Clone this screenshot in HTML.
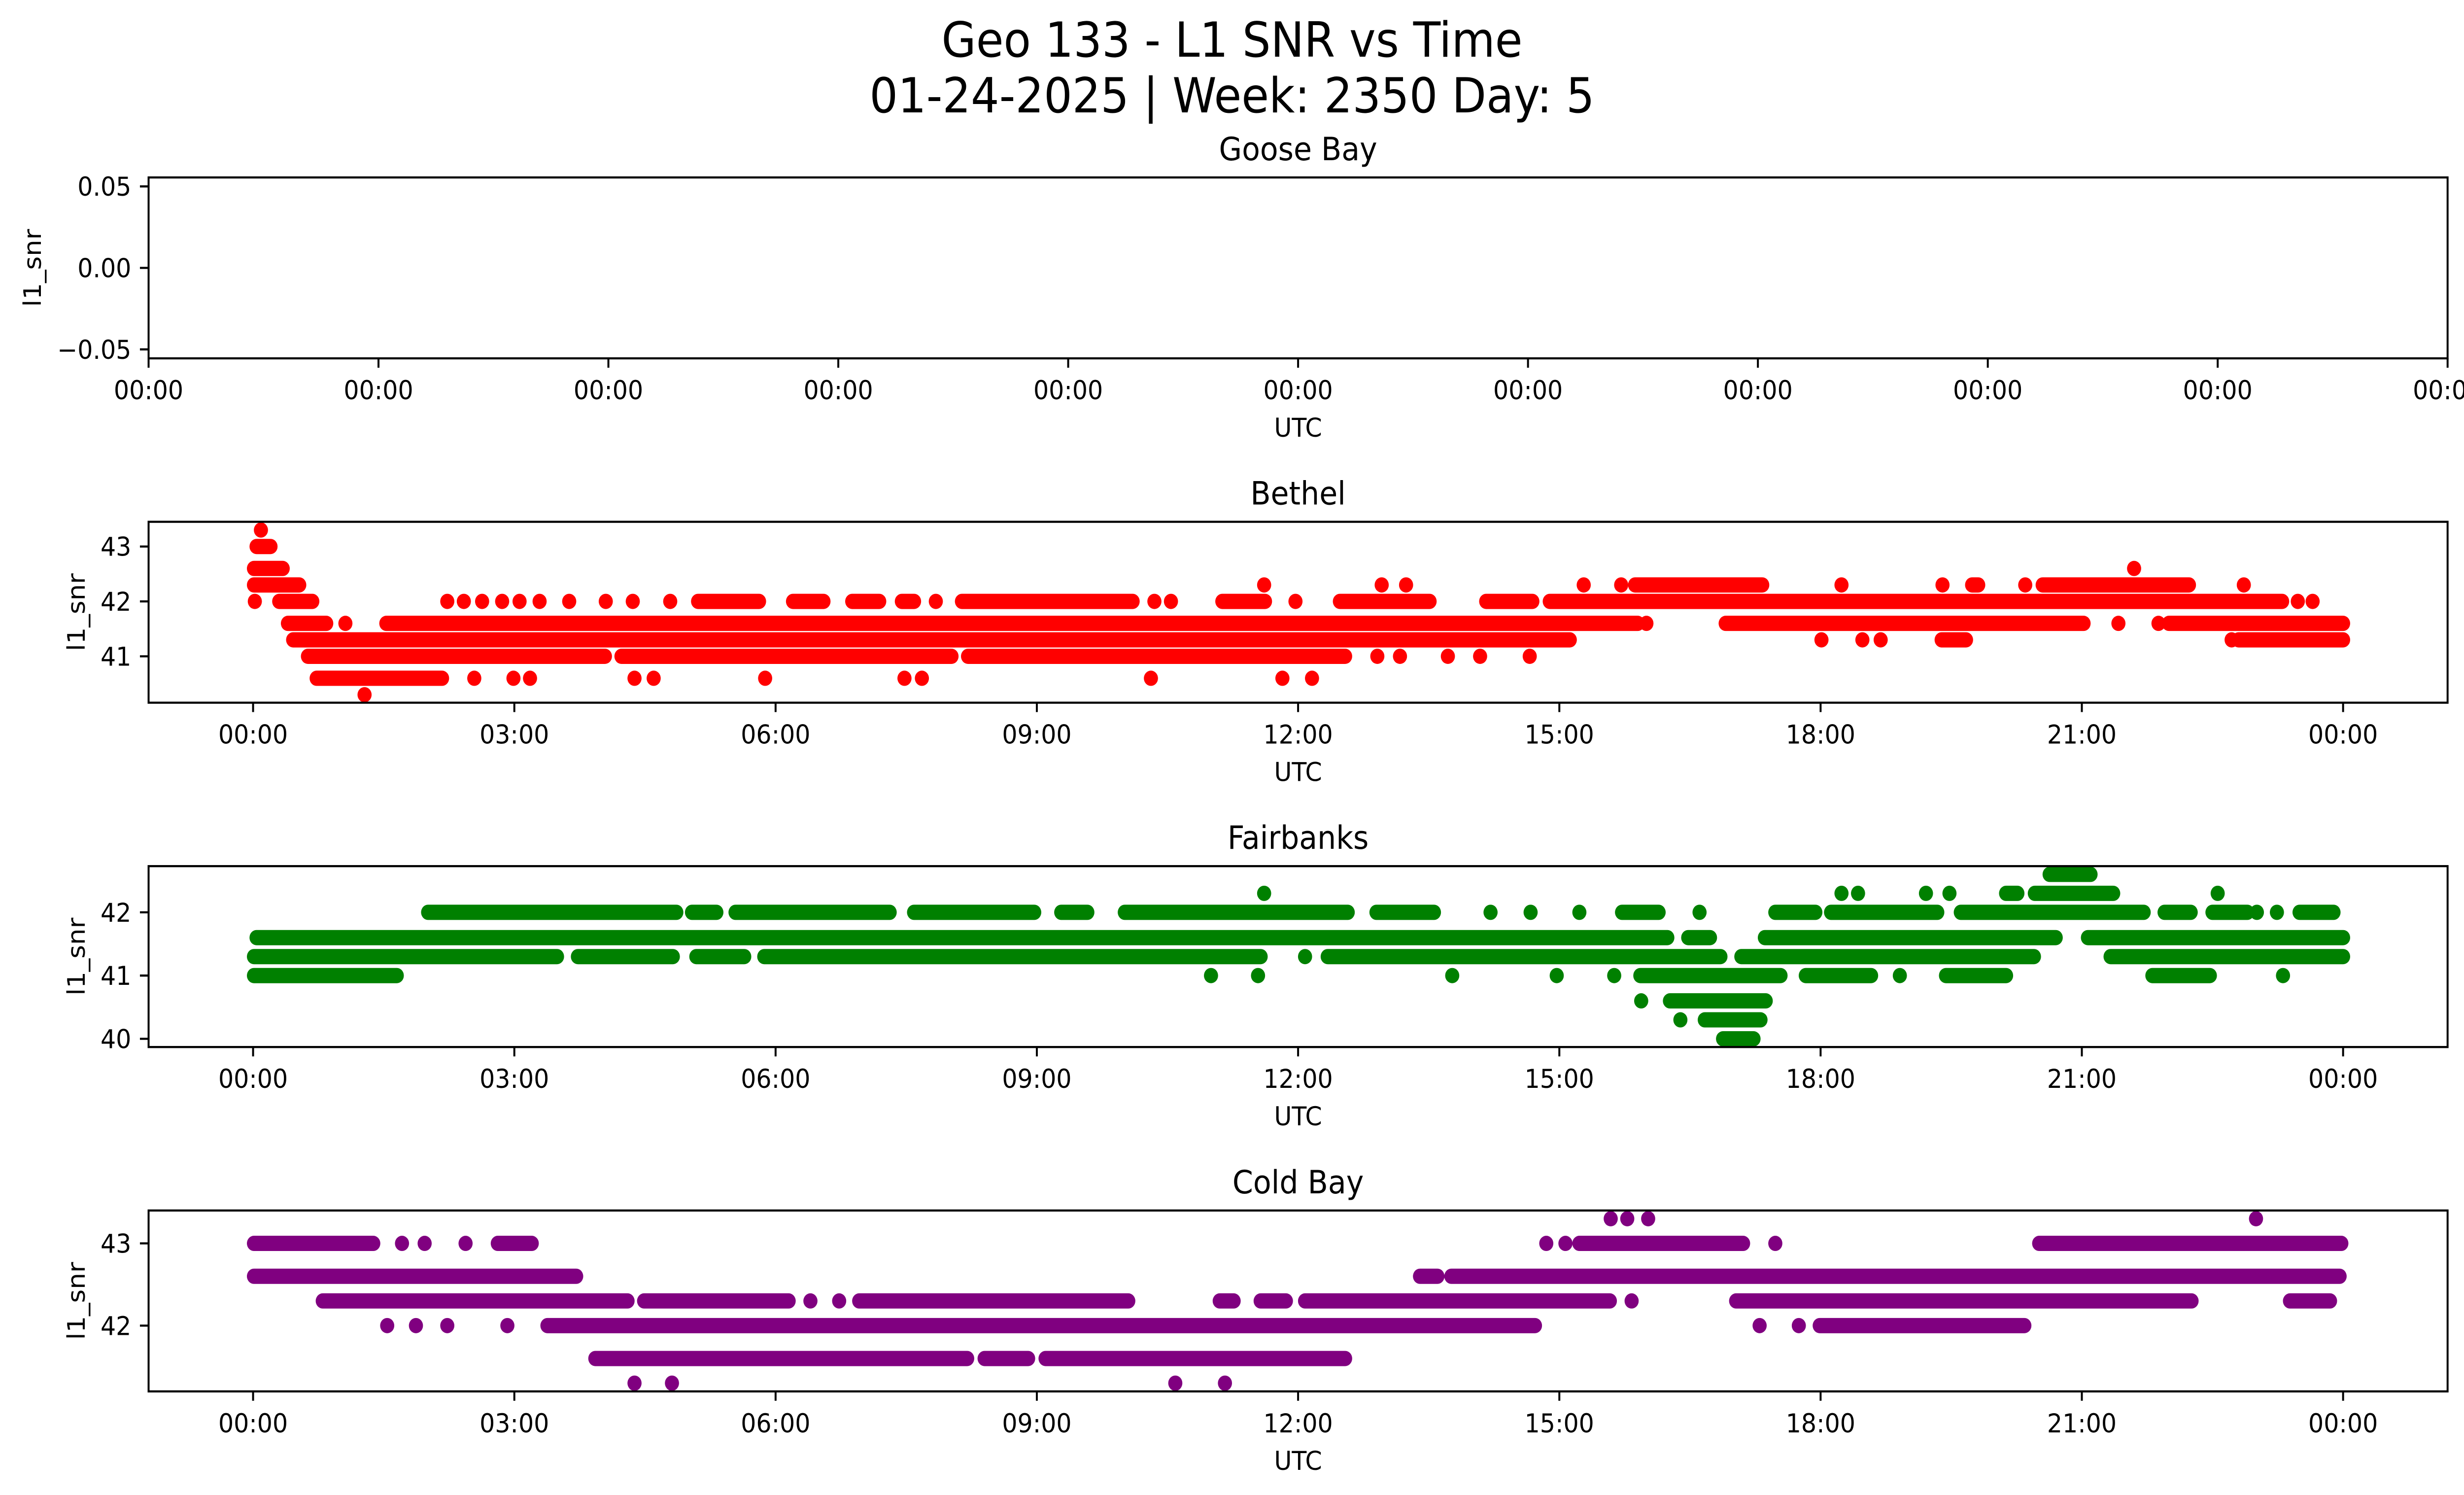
<!DOCTYPE html>
<html><head><meta charset="utf-8"><title>Geo 133 - L1 SNR vs Time</title>
<style>html,body{margin:0;padding:0;background:#fff;overflow:hidden;width:100%;height:100%}svg{display:block;width:100vw;height:100vh}text{font-family:"DejaVu Sans","Liberation Sans",sans-serif;fill:#000}</style>
</head><body>
<svg id="chart" xmlns="http://www.w3.org/2000/svg" viewBox="0 0 5406 3033" preserveAspectRatio="none">
<rect width="5406" height="3033" fill="#fff"/>
<text x="2703" y="115" font-size="98" text-anchor="middle">Geo 133 - L1 SNR vs Time</text>
<text x="2703" y="228" font-size="98" text-anchor="middle">01-24-2025 | Week: 2350 Day: 5</text>
<g id="plots"></g>
</svg>
<script>
const stationNames = ["Goose Bay", "Bethel", "Fairbanks", "Cold Bay"];
const stationColors = ["#1f77b4", "#ff0000", "#008000", "#800080"];
const hourTicks = [0, 3, 6, 9, 12, 15, 18, 21, 24];
const hourTickLabels = ["00:00","03:00","06:00","09:00","12:00","15:00","18:00","21:00","00:00"];
const gooseYTicks = [0.05, 0, -0.05];
const gooseYTickLabels = ["0.05", "0.00", "\u22120.05"];
const gooseRuns = [];
// runs: [snr, startHour, endHour]
const bethelRuns = [
[43.3,0.09,0.09],[43.0,0.04,0.2],[42.6,0.01,0.34],[42.6,21.6,21.6],
[42.3,0.01,0.53],[42.3,11.61,11.61],[42.3,12.96,12.96],[42.3,13.24,13.24],[42.3,15.28,15.28],[42.3,15.71,15.71],[42.3,15.87,17.33],[42.3,18.24,18.24],[42.3,19.4,19.4],[42.3,19.74,19.81],[42.3,20.35,20.35],[42.3,20.55,22.23],[42.3,22.86,22.86],
[42.0,0.02,0.02],[42.0,0.3,0.68],[42.0,2.23,2.23],[42.0,2.42,2.42],[42.0,2.63,2.63],[42.0,2.86,2.86],[42.0,3.06,3.06],[42.0,3.29,3.29],[42.0,3.63,3.63],[42.0,4.05,4.05],[42.0,4.36,4.36],[42.0,4.79,4.79],[42.0,5.11,5.81],[42.0,6.2,6.55],[42.0,6.88,7.19],[42.0,7.45,7.59],[42.0,7.84,7.84],[42.0,8.14,10.1],[42.0,10.35,10.35],[42.0,10.54,10.54],[42.0,11.13,11.62],[42.0,11.97,11.97],[42.0,12.48,13.51],[42.0,14.16,14.69],[42.0,14.89,23.3],[42.0,23.48,23.48],[42.0,23.65,23.65],
[41.6,0.4,0.84],[41.6,1.06,1.06],[41.6,1.53,15.9],[41.6,16.0,16.0],[41.6,16.91,21.02],[41.6,21.42,21.42],[41.6,21.88,21.88],[41.6,22.0,24.0],
[41.3,0.46,15.12],[41.3,18.01,18.01],[41.3,18.48,18.48],[41.3,18.69,18.69],[41.3,19.39,19.67],[41.3,22.72,22.72],[41.3,22.8,24.0],
[41.0,0.63,4.04],[41.0,4.23,8.02],[41.0,8.21,12.54],[41.0,12.91,12.91],[41.0,13.17,13.17],[41.0,13.72,13.72],[41.0,14.09,14.09],[41.0,14.66,14.66],
[40.6,0.73,2.17],[40.6,2.54,2.54],[40.6,2.99,2.99],[40.6,3.18,3.18],[40.6,4.38,4.38],[40.6,4.6,4.6],[40.6,5.88,5.88],[40.6,7.48,7.48],[40.6,7.68,7.68],[40.6,10.31,10.31],[40.6,11.82,11.82],[40.6,12.16,12.16],
[40.3,1.28,1.28]
];
const fairbanksRuns = [
[42.6,20.63,21.1],
[42.3,11.61,11.61],[42.3,18.24,18.24],[42.3,18.43,18.43],[42.3,19.21,19.21],[42.3,19.48,19.48],[42.3,20.13,20.26],[42.3,20.46,21.36],[42.3,22.56,22.56],
[42.0,2.01,4.86],[42.0,5.04,5.32],[42.0,5.54,7.31],[42.0,7.59,8.97],[42.0,9.28,9.58],[42.0,10.01,12.57],[42.0,12.9,13.56],[42.0,14.21,14.21],[42.0,14.67,14.67],[42.0,15.23,15.23],[42.0,15.72,16.14],[42.0,16.61,16.61],[42.0,17.48,17.94],[42.0,18.12,19.34],[42.0,19.61,21.71],[42.0,21.95,22.25],[42.0,22.5,22.9],[42.0,23.01,23.01],[42.0,23.24,23.24],[42.0,23.5,23.89],
[41.6,0.04,16.24],[41.6,16.48,16.73],[41.6,17.36,20.7],[41.6,21.07,24.0],
[41.3,0.01,3.49],[41.3,3.73,4.82],[41.3,5.09,5.64],[41.3,5.87,11.57],[41.3,12.08,12.08],[41.3,12.34,16.85],[41.3,17.09,20.45],[41.3,21.33,24.0],
[41.0,0.01,1.65],[41.0,11.0,11.0],[41.0,11.54,11.54],[41.0,13.77,13.77],[41.0,14.97,14.97],[41.0,15.63,15.63],[41.0,15.93,17.54],[41.0,17.83,18.58],[41.0,18.91,18.91],[41.0,19.44,20.13],[41.0,21.81,22.47],[41.0,23.31,23.31],
[40.6,15.94,15.94],[40.6,16.27,17.37],
[40.3,16.39,16.39],[40.3,16.67,17.31],
[40.0,16.88,17.23]
];
const coldBayRuns = [
[43.3,15.59,15.59],[43.3,15.78,15.78],[43.3,16.02,16.02],[43.3,23.0,23.0],
[43.0,0.01,1.38],[43.0,1.71,1.71],[43.0,1.97,1.97],[43.0,2.44,2.44],[43.0,2.81,3.2],[43.0,14.85,14.85],[43.0,15.07,15.07],[43.0,15.23,17.11],[43.0,17.48,17.48],[43.0,20.51,23.98],
[42.6,0.01,3.71],[42.6,13.4,13.6],[42.6,13.76,23.96],
[42.3,0.8,4.3],[42.3,4.49,6.15],[42.3,6.4,6.4],[42.3,6.73,6.73],[42.3,6.96,10.05],[42.3,11.1,11.26],[42.3,11.57,11.86],[42.3,12.08,15.58],[42.3,15.83,15.83],[42.3,17.03,22.26],[42.3,23.39,23.85],
[42.0,1.54,1.54],[42.0,1.87,1.87],[42.0,2.23,2.23],[42.0,2.92,2.92],[42.0,3.38,14.72],[42.0,17.3,17.3],[42.0,17.75,17.75],[42.0,17.99,20.34],
[41.6,3.93,8.2],[41.6,8.4,8.9],[41.6,9.1,12.54],
[41.3,4.38,4.38],[41.3,4.81,4.81],[41.3,10.59,10.59],[41.3,11.16,11.16]
];
const bethelYTicks = [43, 42, 41];
const fairbanksYTicks = [42, 41, 40];
const coldBayYTicks = [43, 42];

const NS = "http://www.w3.org/2000/svg";
const root = document.getElementById("plots");
const AX_L = 326, AX_R = 5370, AX_H = 367, R = 15.5;
function mk(tag, attrs, parent) {
  const e = document.createElementNS(NS, tag);
  for (const k in attrs) e.setAttribute(k, attrs[k]);
  parent.appendChild(e);
  return e;
}
function xScale(h) { return AX_L + (h - (-1.2)) / (25.2 - (-1.2)) * (AX_R - AX_L); }

const panels = [
  {runs: gooseRuns, ymin: -0.0555, ymax: 0.0555, yt: gooseYTicks, ytl: gooseYTickLabels, goose: true},
  {runs: bethelRuns, ymin: 40.155, ymax: 43.45, yt: bethelYTicks, ytl: bethelYTicks.map(String)},
  {runs: fairbanksRuns, ymin: 39.87, ymax: 42.73, yt: fairbanksYTicks, ytl: fairbanksYTicks.map(String)},
  {runs: coldBayRuns, ymin: 41.2, ymax: 43.4, yt: coldBayYTicks, ytl: coldBayYTicks.map(String)}
];

panels.forEach((p, i) => {
  const top = 360 + i * 698.6, bot = top + AX_H;
  const yScale = v => bot - (v - p.ymin) / (p.ymax - p.ymin) * AX_H;
  const g = mk("g", {}, root);
  
  
  const mg = mk("g", {fill: stationColors[i]}, g);
  
  
  p.runs.forEach(r => {
    const x1 = xScale(r[1]) - R, x2 = xScale(r[2]) + R, yc = yScale(r[0]);
    const m = mk("rect", {x: x1, y: yc - R, width: x2 - x1, height: 2 * R, rx: R, ry: R}, mg);
    
    
  });
  const fr = mk("rect", {x: AX_L, y: top, width: AX_R - AX_L, height: AX_H, fill: "none", stroke: "#000", "stroke-width": 4.3}, g);
  
  
  const xt = p.goose ? Array.from({length: 11}, (_, k) => -1.2 + k * 2.64) : hourTicks;
  xt.forEach((h, k) => {
    const x = xScale(h);
    const t = mk("line", {x1: x, x2: x, y1: bot, y2: bot + 19, stroke: "#000", "stroke-width": 4.3}, g);
    
    
    const lb = mk("text", {x: x, y: bot + 83, "font-size": 53, "text-anchor": "middle"}, g);
    lb.textContent = p.goose ? "00:00" : hourTickLabels[k];
    
    
  });
  p.yt.forEach((v, k) => {
    const y = yScale(v);
    const t = mk("line", {x1: AX_L - 19, x2: AX_L, y1: y, y2: y, stroke: "#000", "stroke-width": 4.3}, g);
    
    
    const lb = mk("text", {x: AX_L - 38, y: y + 19, "font-size": 53, "text-anchor": "end"}, g);
    lb.textContent = p.ytl[k];
    
    
  });
  const xl = mk("text", {x: (AX_L + AX_R) / 2, y: bot + 159, "font-size": 53, "text-anchor": "middle"}, g);
  xl.textContent = "UTC";
  
  
  const ylx = p.goose ? 90 : 186, ylc = top + AX_H / 2;
  const yl = mk("text", {x: ylx, y: ylc, "font-size": 53, "text-anchor": "middle", transform: "rotate(-90 " + ylx + " " + ylc + ")"}, g);
  yl.textContent = "l1_snr";
  
  
  const tt = mk("text", {x: (AX_L + AX_R) / 2, y: top - 35, "font-size": 65, "text-anchor": "middle"}, g);
  tt.textContent = stationNames[i];
  
  
});
</script>
</body></html>
